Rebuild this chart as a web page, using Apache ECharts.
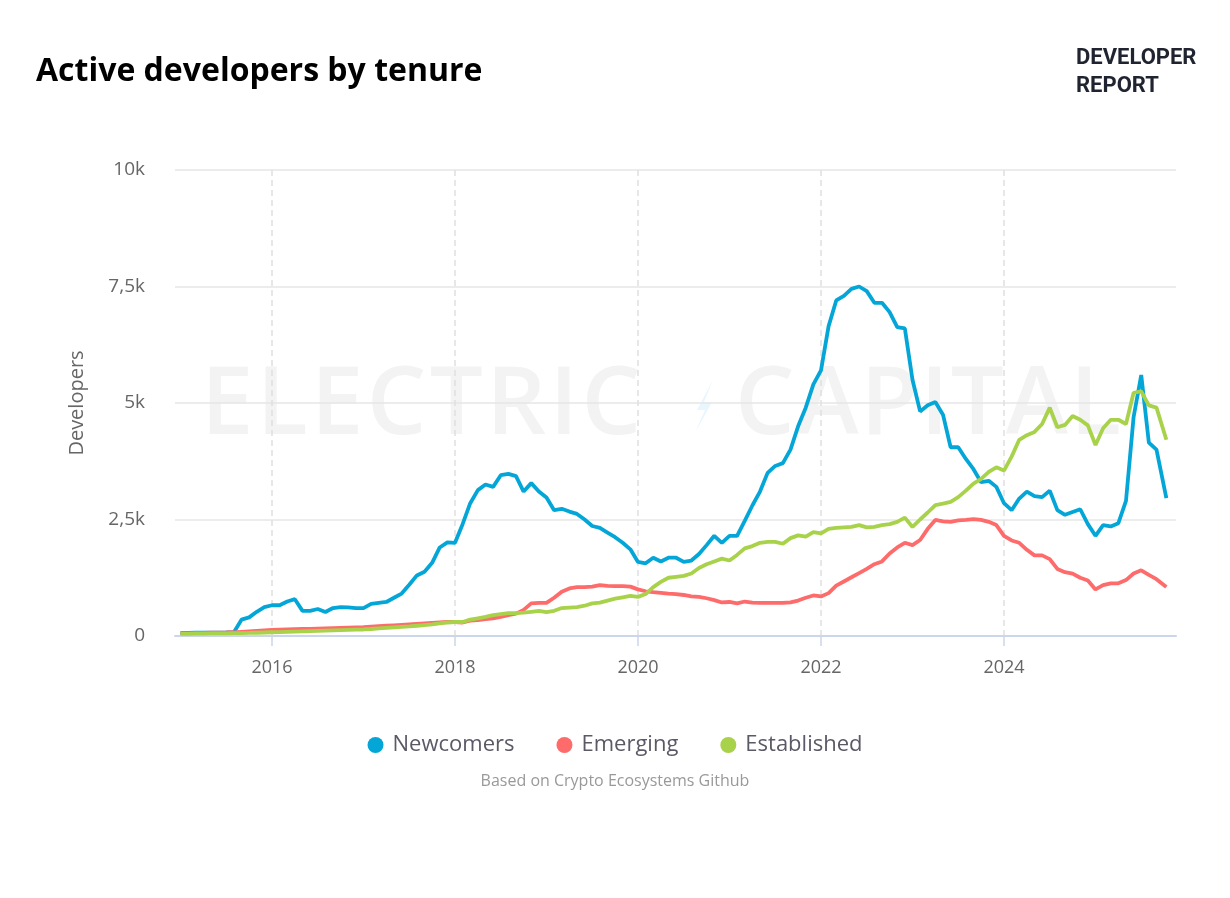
<!DOCTYPE html>
<html><head><meta charset="utf-8">
<script src="https://cdn.jsdelivr.net/npm/echarts@6/dist/echarts.min.js"></script>
<style>html,body{margin:0;padding:0;background:#fff}#c{width:1230px;height:898px}</style>
</head><body><div id="c"></div>
<script>
// Monthly samples from Jan 2015; last sample is mid-Oct 2025
const startYear = 2015, monthCount = 130, lastDate = '2025-10-10';
const dates = [];
for (let i = 0; i < monthCount; i++) {
  const y = startYear + Math.floor(i / 12), m = (i % 12) + 1;
  dates.push(y + '-' + String(m).padStart(2, '0') + '-01');
}
dates[monthCount - 1] = lastDate;

const newcomers = [
  60,65,70,70,70,72,75,80,350,400,520,620,
  660,660,740,790,540,540,580,515,600,620,615,600,
  600,690,710,730,820,910,1100,1300,1380,1570,1900,2010,
  2000,2400,2850,3130,3250,3200,3450,3480,3430,3100,3280,3100,
  2970,2700,2730,2670,2620,2500,2360,2320,2220,2120,2000,1860,
  1590,1560,1680,1600,1680,1680,1590,1620,1760,1950,2150,2000,
  2150,2150,2470,2800,3100,3500,3650,3710,4000,4500,4900,5400,
  5700,6650,7200,7300,7450,7500,7400,7150,7150,6950,6630,6600,
  5500,4820,4950,5020,4750,4050,4050,3800,3580,3300,3330,3200,
  2850,2700,2950,3100,3000,2980,3120,2700,2600,2660,2720,2400,
  2150,2380,2350,2420,2900,4700,5600,4150,4000,2960
];
const emerging = [
  60,62,65,68,70,72,75,80,90,100,110,120,
  130,135,140,145,150,155,160,165,170,175,180,185,
  190,200,210,220,230,240,250,260,270,280,290,300,
  300,290,330,340,360,380,410,450,480,560,700,710,
  710,820,950,1020,1050,1050,1060,1090,1075,1070,1070,1060,
  1000,960,940,925,910,900,880,850,840,810,770,720,
  730,700,740,715,710,710,710,710,720,760,820,870,
  850,920,1080,1170,1260,1350,1440,1540,1600,1770,1900,2000,
  1950,2060,2300,2490,2460,2450,2480,2490,2510,2490,2450,2380,
  2150,2050,2000,1850,1730,1730,1650,1440,1370,1340,1250,1190,
  1000,1090,1130,1130,1200,1340,1410,1310,1220,1050
];
const established = [
  45,47,50,52,55,57,58,60,62,65,70,75,
  80,85,90,95,100,105,110,115,120,125,130,135,
  140,150,165,175,185,195,205,220,235,250,270,290,
  300,300,350,380,410,450,470,490,490,500,520,540,
  510,540,600,610,620,650,700,715,760,800,830,860,
  840,900,1050,1160,1250,1270,1290,1340,1460,1540,1600,1660,
  1620,1740,1880,1930,2000,2020,2020,1980,2100,2160,2130,2230,
  2200,2300,2320,2330,2340,2380,2330,2340,2380,2400,2450,2540,
  2340,2500,2650,2810,2840,2880,2980,3120,3270,3370,3520,3620,
  3550,3850,4210,4310,4380,4550,4900,4480,4530,4720,4640,4520,
  4100,4460,4640,4640,4550,5220,5250,4950,4900,4210
];
const xTickYears = [2016, 2018, 2020, 2022, 2024];
const seriesNames = ['Newcomers', 'Emerging', 'Established'];
const colors = ['#04a6d8', '#fe6b6b', '#a8d24a'];

function toYear(s) {
  const p = s.split('-').map(Number);
  return p[0] + (p[1] - 1) / 12 + (p[2] - 1) / 365;
}
function pairs(vals) { return vals.map((v, i) => [toYear(dates[i]), v]); }
const FONT = '"Open Sans", "Noto Sans", sans-serif';

// watermark: letters spread across a given horizontal span
const WM_FONT = '600 94px "Open Sans"';
const measureCtx = document.createElement('canvas').getContext('2d');
function spreadWord(word, x0, x1, yMid) {
  measureCtx.font = WM_FONT;
  const chars = word.split('');
  const ws = chars.map(c => measureCtx.measureText(c).width);
  const total = ws.reduce((a, b) => a + b, 0);
  const gap = (x1 - x0 - total) / (chars.length - 1);
  let x = x0;
  return chars.map((c, i) => {
    const el = { type: 'text', z: -1, silent: true, x: x, y: yMid,
      style: { text: c, fill: '#f3f3f3', font: WM_FONT, verticalAlign: 'middle' } };
    x += ws[i] + gap;
    return el;
  });
}
const watermark = spreadWord('ELECTRIC', 201, 641, 407).concat(spreadWord('CAPITAL', 735, 1121, 407));
watermark.push({ type: 'polygon', z: -1, silent: true,
  shape: { points: [[713, 380], [697, 410], [705, 410], [695, 433], [712, 402], [704, 402]] },
  style: { fill: '#e8f7fd' } });

const chart = echarts.init(document.getElementById('c'), null, { renderer: 'canvas' });
chart.setOption({
  animation: false,
  backgroundColor: '#fff',
  color: colors,
  textStyle: { fontFamily: FONT },
  title: [
    { text: 'Active developers by tenure', left: 31, top: 51,
      textStyle: { fontSize: 32, fontWeight: 'bold', color: '#000', fontFamily: FONT } },
    { text: 'DEVELOPER\nREPORT', left: 1071, top: 39,
      textStyle: { fontSize: 22, fontWeight: 'bold', color: '#1f2430', lineHeight: 28, fontFamily: 'Roboto, sans-serif' } },
    { text: 'Based on Crypto Ecosystems Github', left: 'center', top: 768,
      textStyle: { fontSize: 16, fontWeight: 'normal', color: '#999', fontFamily: FONT } }
  ],
  graphic: watermark,
  legend: {
    data: seriesNames, left: 'center', top: 729, icon: 'circle',
    itemWidth: 16, itemHeight: 16, itemGap: 42,
    textStyle: { fontSize: 22, color: '#5a5a66', fontFamily: FONT, padding: [0, 0, 0, 4] }
  },
  grid: { left: 175, right: 54, top: 170, bottom: 262, containLabel: false },
  xAxis: {
    type: 'value', min: 2014.94, max: 2025.88, splitNumber: 5,
    axisLine: { show: true, lineStyle: { color: '#ccd6eb', width: 2 } },
    axisTick: { show: true, length: 10, customValues: xTickYears, lineStyle: { color: '#ccd6eb', width: 1.5 } },
    axisLabel: { customValues: xTickYears, formatter: v => String(Math.round(v)), fontSize: 18, color: '#666', margin: 23, fontFamily: FONT },
    splitLine: { show: true, lineStyle: { color: '#e0e0e0', type: [6, 4], width: 1.5 } }
  },
  yAxis: {
    type: 'value', min: 0, max: 10000, interval: 2500,
    name: 'Developers', nameLocation: 'middle', nameGap: 88, nameRotate: 90,
    nameTextStyle: { fontSize: 20, color: '#666', fontFamily: FONT },
    axisLine: { show: false }, axisTick: { show: false },
    axisLabel: { fontSize: 19, color: '#666', margin: 30, fontFamily: FONT,
      formatter: v => v === 0 ? '0' : String(v / 1000).replace('.', ',') + 'k' },
    splitLine: { lineStyle: { color: '#e6e6e6', width: 1.5 } }
  },
  series: [
    { name: seriesNames[0], type: 'line', data: pairs(newcomers), showSymbol: false, lineStyle: { width: 3.8 } },
    { name: seriesNames[1], type: 'line', data: pairs(emerging), showSymbol: false, lineStyle: { width: 3.8 } },
    { name: seriesNames[2], type: 'line', data: pairs(established), showSymbol: false, lineStyle: { width: 3.8 } }
  ]
});
</script></body></html>
